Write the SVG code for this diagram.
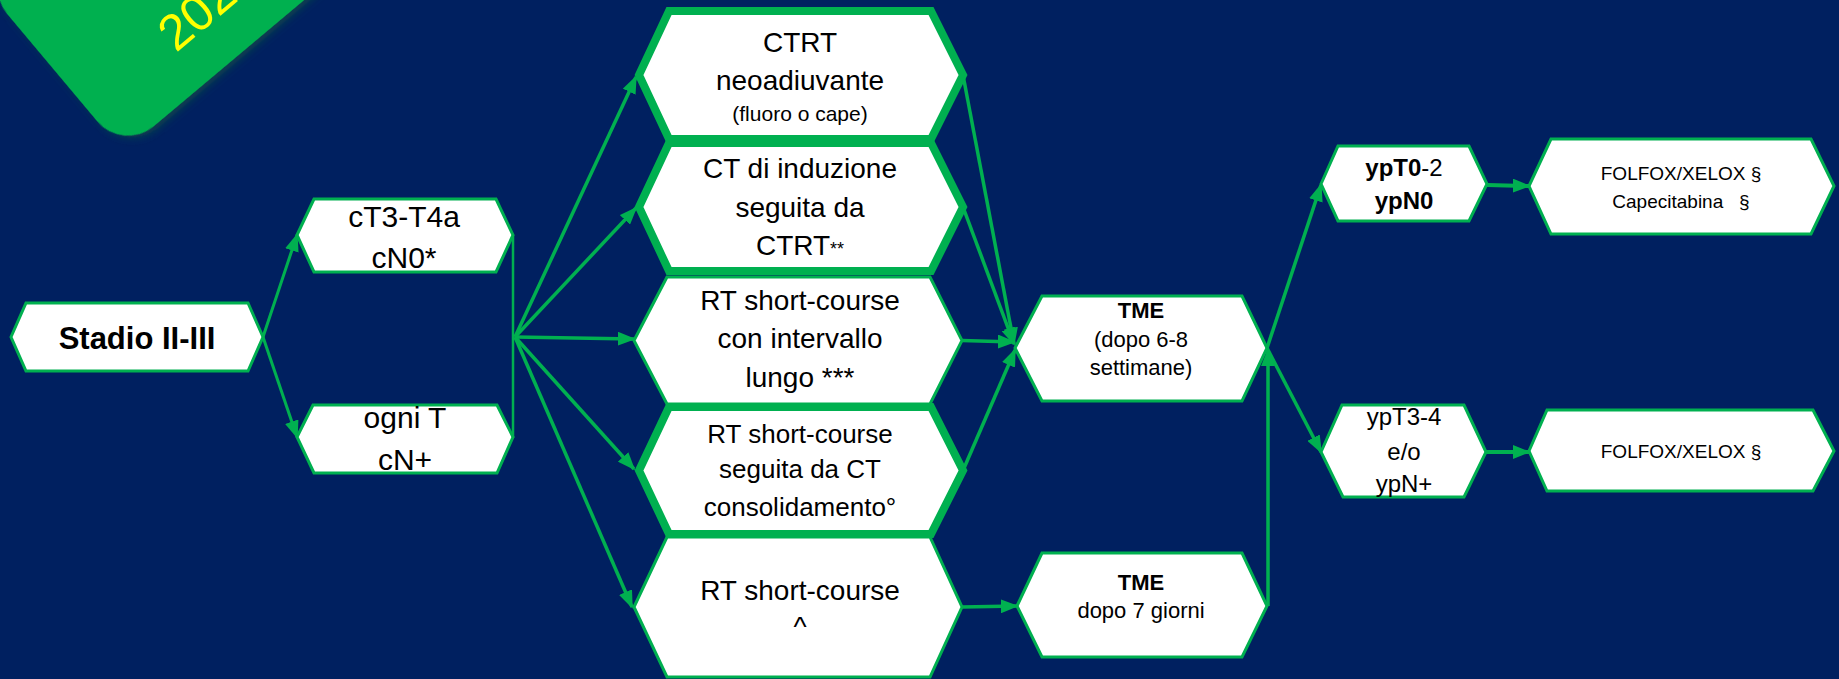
<svg xmlns="http://www.w3.org/2000/svg" width="1839" height="679" viewBox="0 0 1839 679">
<defs>
<style>
.n{fill:#fff;stroke:#00B050;stroke-width:3;stroke-linejoin:miter}
.thick{stroke-width:8}
.c{fill:none;stroke:#00B050;stroke-width:3.5;marker-end:url(#ah)}
.plain{fill:none;stroke:#00B050;stroke-width:2.5}
text{font-family:"Liberation Sans",Arial,sans-serif;fill:#000;text-anchor:middle}
.b{font-weight:bold}
</style>
<marker id="ah" viewBox="0 0 10 10" refX="9" refY="5" markerUnits="userSpaceOnUse" markerWidth="18" markerHeight="14" orient="auto" preserveAspectRatio="none"><path d="M0,0 L10,5 L0,10 z" fill="#00B050"/></marker>
<filter id="sh" x="-20%" y="-20%" width="140%" height="140%"><feDropShadow dx="2" dy="4" stdDeviation="4" flood-color="#0b4a4a" flood-opacity="0.9"/></filter>
</defs>
<rect x="0" y="0" width="1839" height="679" fill="#002060"/>

<g id="badge">
<rect transform="translate(123,152) rotate(-40)" x="0" y="-220" width="420" height="220" rx="40" fill="#00B050" filter="url(#sh)"/>
<text transform="translate(176,53) rotate(-40)" style="text-anchor:start;fill:#FFFF00" font-size="50">2023</text>
</g>

<g id="stadio"><polygon class="n" points="11,337 26,303 248,303 263,337 248,371 26,371"/><text class="b" x="137" y="349" font-size="31">Stadio II-III</text></g>
<g id="ct3"><polygon class="n" points="297,235 314,199 496,199 513,235 496,272 314,272"/><text x="404" y="227" font-size="30">cT3-T4a</text><text x="404" y="268" font-size="30">cN0*</text></g>
<g id="ognit"><polygon class="n" points="297,437 313,405 497,405 513,437 497,473 314,473"/><text x="405" y="428" font-size="30">ogni T</text><text x="405" y="470" font-size="30">cN+</text></g>

<g id="rt-long"><polygon class="n" points="634,340.5 667,277 930,277 962,340.5 930,404 667,404"/><text x="800" y="310" font-size="28">RT short-course</text><text x="800" y="348" font-size="28">con intervallo</text><text x="800" y="387" font-size="28">lungo ***</text></g>
<g id="rt-short"><polygon class="n" points="634,607 667,537 930,537 962,607 930,677 667,677"/><text x="800" y="600" font-size="28">RT short-course</text><text x="800" y="636" font-size="28">^</text></g>
<g id="ctrt"><polygon class="n thick" points="639,75 669,11 931,11 963,75 931,139 669,139"/><text x="800" y="52" font-size="28">CTRT</text><text x="800" y="90" font-size="28">neoadiuvante</text><text x="800" y="121" font-size="21">(fluoro o cape)</text></g>
<g id="ct-ind"><polygon class="n thick" points="639,207 669,143 931,143 963,207 931,271 669,271"/><text x="800" y="178" font-size="28">CT di induzione</text><text x="800" y="217" font-size="28">seguita da</text><text x="800" y="255" font-size="28">CTRT<tspan font-size="18">**</tspan></text></g>
<g id="rt-cons"><polygon class="n thick" points="639,470.5 669,407 931,407 963,470.5 931,534 669,534"/><text x="800" y="443" font-size="26">RT short-course</text><text x="800" y="478" font-size="26">seguita da CT</text><text x="800" y="516" font-size="26">consolidamento°</text></g>

<g id="tme1"><polygon class="n" points="1015,348 1042,296 1242,296 1267,348 1242,401 1042,401"/><text class="b" x="1141" y="318" font-size="22">TME</text><text x="1141" y="347" font-size="22">(dopo 6-8</text><text x="1141" y="375" font-size="22">settimane)</text></g>
<g id="tme2"><polygon class="n" points="1017,606 1042,553 1242,553 1267,606 1242,657 1042,657"/><text class="b" x="1141" y="590" font-size="22">TME</text><text x="1141" y="618" font-size="22">dopo 7 giorni</text></g>

<g id="ypt02"><polygon class="n" points="1321,184 1338,146 1469,146 1487,184 1469,221 1338,221"/><text x="1404" y="176" font-size="24"><tspan font-weight="bold">ypT0</tspan>-2</text><text class="b" x="1404" y="209" font-size="24">ypN0</text></g>
<g id="folfox1"><polygon class="n" points="1529,186 1551,139 1811,139 1834,186 1811,234 1551,234"/><text x="1681" y="180" font-size="19">FOLFOX/XELOX §</text><text x="1681" y="208" font-size="19" xml:space="preserve">Capecitabina   §</text></g>
<g id="ypt34"><polygon class="n" points="1321,452 1342,405 1464,405 1486,452 1464,497 1343,497"/><text x="1404" y="425" font-size="24">ypT3-4</text><text x="1404" y="460" font-size="24">e/o</text><text x="1404" y="492" font-size="24">ypN+</text></g>
<g id="folfox2"><polygon class="n" points="1529,451 1547,410 1813,410 1834,451 1813,491 1547,491"/><text x="1681" y="458" font-size="19">FOLFOX/XELOX §</text></g>

<g id="connectors">
<path class="c" style="stroke-width:3" d="M263,337 L297,235"/>
<path class="c" style="stroke-width:3" d="M263,337 L297,437"/>
<path class="plain" d="M513,235 L513,438"/>
<path class="c" d="M515,337 L636,77"/>
<path class="c" d="M515,337 L636,208"/>
<path class="c" d="M515,337 L634,339"/>
<path class="c" d="M515,337 L634,469"/>
<path class="c" d="M515,337 L632,607"/>
<path class="c" d="M963,75 L1014,344"/>
<path class="c" d="M963,207 L1014,344"/>
<path class="c" d="M962,340.5 L1014,342"/>
<path class="c" d="M963,470.5 L1015,350"/>
<path class="c" d="M962,607 L1017,606"/>
<path class="c" d="M1267,348 L1321,185"/>
<path class="c" d="M1267,348 L1321,452"/>
<path class="c" d="M1268,606 L1268,350"/>
<path class="c" style="stroke-width:4" d="M1487,185 L1529,186"/>
<path class="c" style="stroke-width:4" d="M1486,452 L1529,452"/>
</g>
</svg>
